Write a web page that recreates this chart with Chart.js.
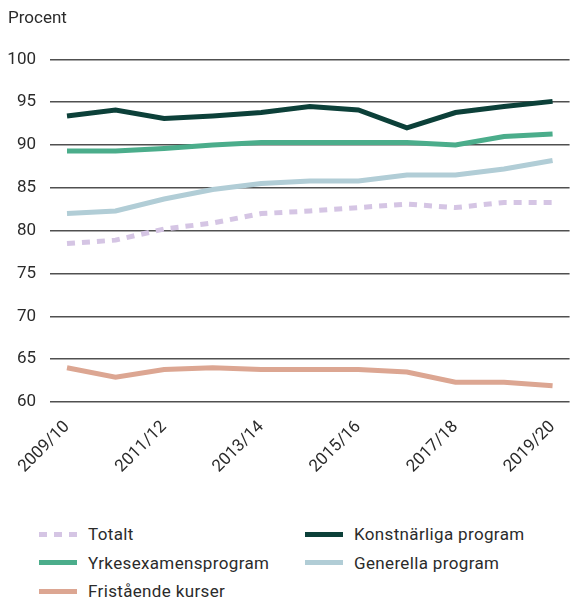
<!DOCTYPE html>
<html>
<head>
<meta charset="utf-8">
<script src="https://cdn.jsdelivr.net/npm/chart.js@4/dist/chart.umd.min.js"></script>
<style>
  html, body { margin: 0; padding: 0; background: #fff; }
  body { width: 574px; height: 598px; position: relative; overflow: hidden; font-family: Roboto, sans-serif; }
  #wrap { position: absolute; left: 0; top: 0; width: 574px; height: 482px; }
  #legend { position: absolute; left: 0; top: 522px; width: 574px; }
  .item { position: absolute; display: flex; align-items: center; height: 24px; font-size: 17px; letter-spacing: 0.35px; color: #2b2b2b; }
  .swatch { width: 38px; height: 5px; margin-right: 11px; }
</style>
</head>
<body>
<div id="wrap"><canvas id="chart"></canvas></div>
<div id="legend"></div>
<script>
const years = ['2009/10', '2010/11', '2011/12', '2012/13', '2013/14', '2014/15',
               '2015/16', '2016/17', '2017/18', '2018/19', '2019/20'];

const totalt       = [78.5, 78.9, 80.2, 80.9, 82.0, 82.3, 82.7, 83.1, 82.7, 83.3, 83.3];
const konstnarliga = [93.4, 94.1, 93.1, 93.4, 93.8, 94.5, 94.1, 92.0, 93.8, 94.5, 95.1];
const yrkesexamen  = [89.3, 89.3, 89.6, 90.0, 90.3, 90.3, 90.3, 90.3, 90.0, 91.0, 91.3];
const generella    = [82.0, 82.3, 83.7, 84.8, 85.5, 85.8, 85.8, 86.5, 86.5, 87.2, 88.2];
const fristaende   = [64.0, 62.9, 63.8, 64.0, 63.8, 63.8, 63.8, 63.5, 62.3, 62.3, 61.9];

const yTicks = [60, 65, 70, 75, 80, 85, 90, 95, 100];
const xTickIdx = [0, 2, 4, 6, 8, 10];

function pts(arr) {
    return arr.map((v, i) => ({ x: i, y: v }));
}

const series = [
    { label: 'Totalt', data: totalt, color: '#d5c5e4', dash: [8, 7] },
    { label: 'Konstnärliga program', data: konstnarliga, color: '#0c4039', dash: [] },
    { label: 'Yrkesexamensprogram', data: yrkesexamen, color: '#4bad8b', dash: [] },
    { label: 'Generella program', data: generella, color: '#b1cdd6', dash: [] },
    { label: 'Fristående kurser', data: fristaende, color: '#dca692', dash: [] }
];

const font = { family: 'Roboto, sans-serif', size: 17 };

const chart = new Chart(document.getElementById('chart'), {
    type: 'line',
    data: {
        datasets: series.map(s => ({
            label: s.label,
            data: pts(s.data),
            borderColor: s.color,
            backgroundColor: s.color,
            borderWidth: 5,
            borderDash: s.dash,
            borderCapStyle: 'butt',
            pointRadius: 0,
            tension: 0,
            fill: false
        }))
    },
    options: {
        responsive: true,
        maintainAspectRatio: false,
        animation: false,
        layout: { padding: { left: 8, right: 0, top: 0, bottom: 0 } },
        plugins: {
            legend: { display: false },
            tooltip: { enabled: false },
            title: {
                display: true,
                text: 'Procent',
                align: 'start',
                color: '#2b2b2b',
                font: { family: font.family, size: 17, weight: 'normal' },
                padding: { top: 9, bottom: 30 }
            }
        },
        scales: {
            x: {
                type: 'linear',
                min: -0.35,
                max: 10.35,
                grid: { display: false },
                border: { display: false },
                afterBuildTicks: axis => { axis.ticks = xTickIdx.map(v => ({ value: v })); },
                afterFit: axis => { axis.height = 80; },
                ticks: {
                    color: '#2b2b2b',
                    font: font,
                    maxRotation: 45,
                    minRotation: 45,
                    padding: 7,
                    autoSkip: false,
                    callback: v => years[v]
                }
            },
            y: {
                min: 60,
                max: 100,
                afterBuildTicks: axis => { axis.ticks = yTicks.map(v => ({ value: v })); },
                afterFit: axis => { axis.width = 42; },
                grid: { color: '#505050', lineWidth: 1.5, drawTicks: false },
                border: { display: false },
                ticks: { color: '#2b2b2b', font: font, padding: 14 }
            }
        }
    }
});

// legend in two columns, built from the chart's datasets
const legend = document.getElementById('legend');
const cols = [39, 305];
chart.data.datasets.forEach((ds, i) => {
    const item = document.createElement('div');
    item.className = 'item';
    item.style.left = cols[i % 2] + 'px';
    item.style.top = (Math.floor(i / 2) * 28.5) + 'px';
    const sw = document.createElement('span');
    sw.className = 'swatch';
    if (ds.borderDash.length) {
        sw.style.background = `repeating-linear-gradient(90deg, ${ds.borderColor} 0 7.5px, transparent 7.5px 15px)`;
    } else {
        sw.style.background = ds.borderColor;
    }
    const txt = document.createElement('span');
    txt.textContent = ds.label;
    item.appendChild(sw);
    item.appendChild(txt);
    legend.appendChild(item);
});
</script>
</body>
</html>
